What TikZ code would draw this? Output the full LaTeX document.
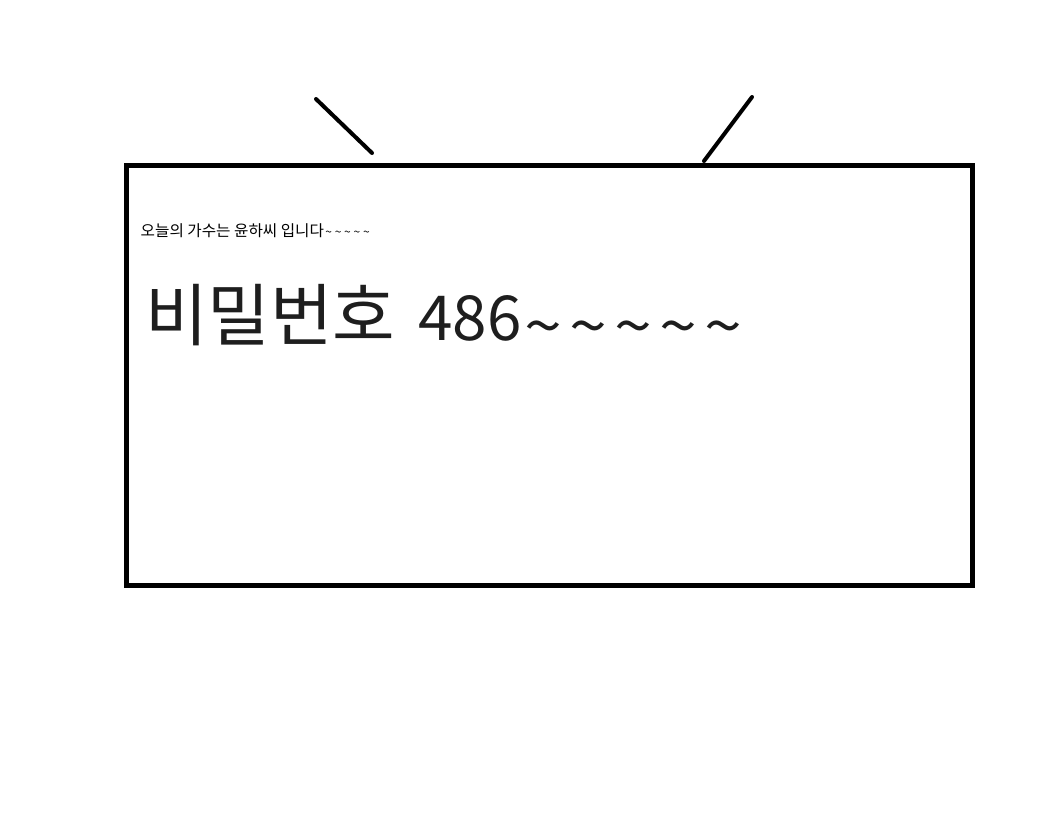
\documentclass[tikz,border=0pt]{standalone}
\usepackage{fontspec}
\newfontfamily\kr{Noto Sans CJK KR}
\definecolor{ink}{HTML}{1E1E1E}
\newcommand{\tl}{\textasciitilde}
\newcommand{\bigtl}{\makebox[45pt]{\raisebox{-8pt}{\scalebox{1.0}[0.9]{\tl}}}}
\tikzset{
  frame/.style={draw=black, line width=5pt},
  antenna/.style={draw=black, line width=4pt, line cap=round},
  small/.style={anchor=base west, inner sep=0pt, text=black, font=\kr\fontsize{15.5}{18}\selectfont},
  big/.style={anchor=base west, inner sep=0pt, text=ink, font=\kr\fontsize{68}{80}\selectfont}
}
\begin{document}
\begin{tikzpicture}[x=1pt,y=-1pt]
\useasboundingbox (0,0) rectangle (1060,836);
\fill[white] (0,0) rectangle (1060,836);
\coordinate (tvnw) at (126.5,165);
\coordinate (tvse) at (972.5,585.5);
\draw[frame] (tvnw) rectangle (tvse);
\coordinate (la1) at (316,99);
\coordinate (la2) at (372,153);
\coordinate (ra1) at (752,97);
\coordinate (ra2) at (704,161);
\draw[antenna] (la1) -- (la2);
\draw[antenna] (ra1) -- (ra2);
\node[small] (t1) at (140.5,236) {\scalebox{1.01}[1]{오늘의 가수는 윤하씨 입니다}{\fontsize{12}{14}\selectfont\makebox[9.4pt]{\tl}\makebox[9.4pt]{\tl}\makebox[9.4pt]{\tl}\makebox[9.4pt]{\tl}\makebox[9.4pt]{\tl}}};
\node[big] (t2) at (145,340) {\makebox[273pt][l]{비밀번호}\makebox[103pt][l]{\fontsize{62}{70}\selectfont 486}\bigtl\bigtl\bigtl\bigtl\bigtl};
\end{tikzpicture}
\end{document}
